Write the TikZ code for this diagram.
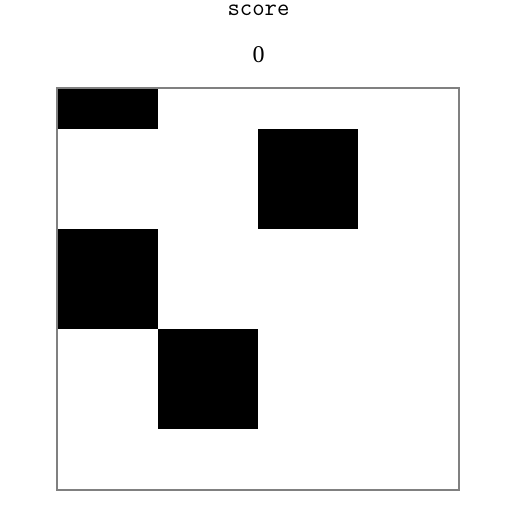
\documentclass[tikz,border=0pt]{standalone}
\usepackage{fontspec}
\setmainfont{Liberation Serif}
\tikzset{
  cell/.style={fill=black},
  board/.style={draw=gray, line width=2pt},
  label/.style={inner sep=0pt, anchor=base}
}
\begin{document}
\begin{tikzpicture}[x=1pt,y=-1pt]
\useasboundingbox (0,0) rectangle (524,510);
\fill[white] (0,0) rectangle (524,510);
\node[label, text height=12pt, text depth=0pt, font=\ttfamily\fontsize{24}{24}\selectfont] (score) at (258.5,15.7) {score};
\node[label, font=\fontsize{24}{24}\selectfont] (val) at (258.5,62.3) {0};
\fill[cell] (58,89) rectangle (158,129);
\fill[cell] (258,129) rectangle (358,229);
\fill[cell] (58,229) rectangle (158,329);
\fill[cell] (158,329) rectangle (258,429);
\draw[board] (57,88) rectangle (458.7,489.5);
\end{tikzpicture}
\end{document}
